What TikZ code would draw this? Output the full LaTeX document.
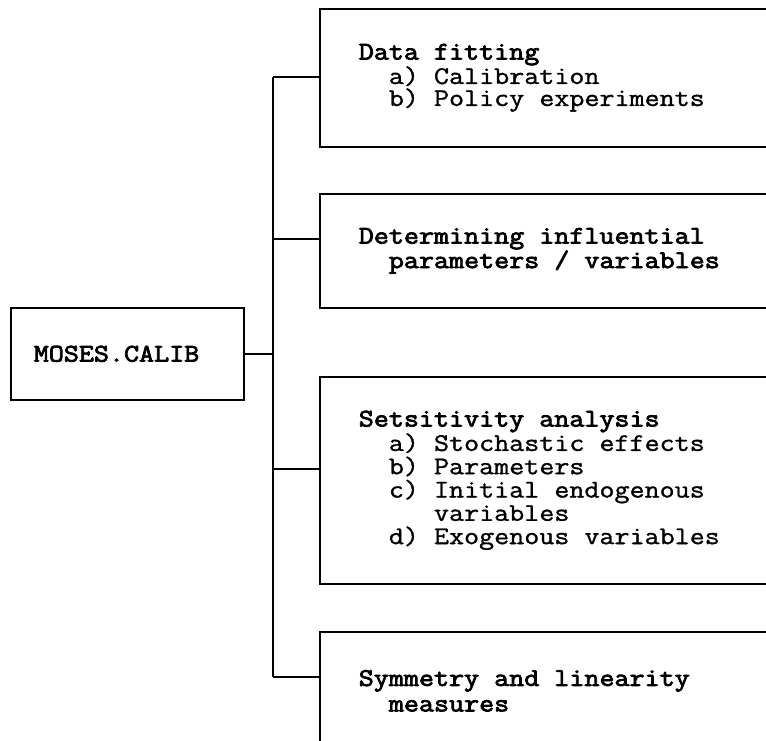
\documentclass[tikz,border=0pt]{standalone}
\usepackage{fontspec}
\setmonofont{Latin Modern Mono}[FakeStretch=1.15, UprightFeatures={FakeBold=1.2}, BoldFont={Latin Modern Mono}, BoldFeatures={FakeBold=3}]
\newcommand\spc{\hphantom{x}}
\tikzset{
  rbox/.style={draw, line width=1.6pt, rectangle, anchor=north west, align=left,
    text width=440pt, inner xsep=39pt, inner ysep=0pt, minimum width=500pt,
    font=\ttfamily\fontsize{25.4pt}{22pt}\selectfont},
  lbox/.style={draw, line width=1.6pt, rectangle, anchor=north west, align=left,
    text width=187pt, inner xsep=23pt, inner ysep=0pt, minimum width=233pt,
    minimum height=92pt, font=\ttfamily\fontsize{25.4pt}{22pt}\selectfont},
  conn/.style={line width=1.6pt}
}
\begin{document}
\begin{tikzpicture}[x=1pt,y=-1pt]
\clip (0,0) rectangle (766,741);
\fill[white] (0,0) rectangle (766,741);
\node[lbox] (m) at (10,307) {\textbf{MOSES.CALIB}};
\node[rbox, minimum height=138pt] (b1) at (319,8)
  {\textbf{Data\spc fitting}\\
   \spc\spc a)\spc Calibration\\
   \spc\spc b)\spc Policy\spc experiments};
\node[rbox, minimum height=114pt] (b2) at (319,193)
  {\textbf{Determining\spc influential}\\
   \spc\spc\textbf{parameters\spc /\spc variables}};
\node[rbox, minimum height=207pt, font=\ttfamily\fontsize{25.4pt}{23.3pt}\selectfont] (b3) at (319,376)
  {\textbf{Setsitivity\spc analysis}\\
   \spc\spc a)\spc Stochastic\spc effects\\
   \spc\spc b)\spc Parameters\\
   \spc\spc c)\spc Initial\spc endogenous\\
   \spc\spc\spc\spc\spc variables\\
   \spc\spc d)\spc Exogenous\spc variables};
\node[rbox, minimum height=118pt, font=\ttfamily\fontsize{25.4pt}{25.5pt}\selectfont] (b4) at (319,631)
  {\textbf{Symmetry\spc and\spc linearity}\\
   \spc\spc\textbf{measures}};
\coordinate (t1) at (273,77);
\coordinate (t2) at (273,239);
\coordinate (t3) at (273,469);
\coordinate (t4) at (273,677);
\draw[conn] (m.east) -- (m.east -| t1);
\draw[conn] (t1) -- (t4);
\draw[conn] (t1) -- (t1 -| b1.west);
\draw[conn] (t2) -- (t2 -| b2.west);
\draw[conn] (t3) -- (t3 -| b3.west);
\draw[conn] (t4) -- (t4 -| b4.west);
\end{tikzpicture}
\end{document}
